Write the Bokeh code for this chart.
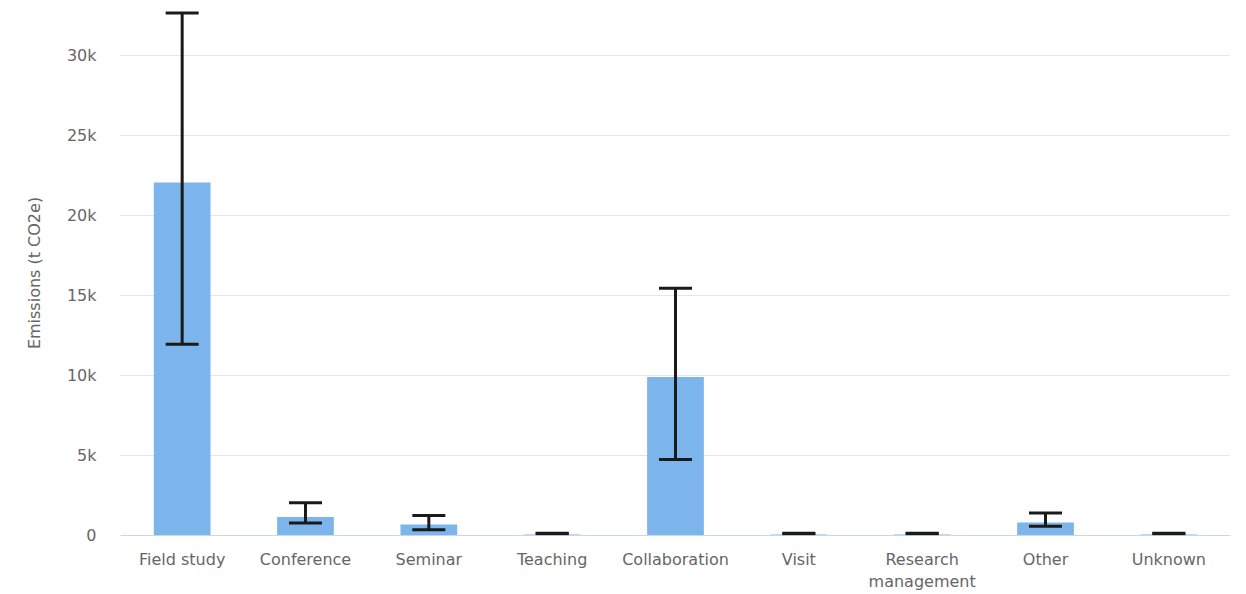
from bokeh.plotting import figure
from bokeh.models import ColumnDataSource, Range1d, FixedTicker, Whisker, TeeHead
from bokeh.embed import file_html
from bokeh.resources import INLINE

categories = ["Field study", "Conference", "Seminar", "Teaching", "Collaboration",
              "Visit", "Research\nmanagement", "Other", "Unknown"]
values = [22050, 1150, 680, 60, 9900, 60, 60, 820, 60]
err_low = [11950, 780, 360, 110, 4750, 110, 110, 580, 110]
err_high = [32650, 2050, 1250, 140, 15450, 140, 140, 1400, 140]
y_ticks = [0, 5000, 10000, 15000, 20000, 25000, 30000]
y_tick_labels = ["0", "5k", "10k", "15k", "20k", "25k", "30k"]

FONT = "DejaVu Sans"
TXT = "#666666"

xs = list(range(len(categories)))
src = ColumnDataSource(dict(x=xs, val=values, lo=err_low, hi=err_high))

p = figure(x_range=Range1d(-0.5, len(categories) - 0.5), y_range=Range1d(0, 32800),
           width=1240, height=594,
           output_backend="svg", toolbar_location=None,
           min_border_left=120, min_border_right=10, min_border_top=10, min_border_bottom=59)
p.outline_line_color = None

p.vbar(x="x", top="val", width=0.46, source=src, fill_color="#7cb5ec", line_color=None)

w = Whisker(base="x", lower="lo", upper="hi", source=src, level="overlay",
            line_color="#1a1a1a", line_width=3,
            upper_head=TeeHead(size=33, line_color="#1a1a1a", line_width=3),
            lower_head=TeeHead(size=33, line_color="#1a1a1a", line_width=3))
p.add_layout(w)

p.xgrid.grid_line_color = None
p.ygrid.grid_line_color = "#e6e6e6"
p.ygrid.grid_line_width = 1
p.yaxis.ticker = FixedTicker(ticks=y_ticks)
p.yaxis.major_label_overrides = {t: l for t, l in zip(y_ticks, y_tick_labels)}
p.yaxis.axis_line_color = None
p.yaxis.major_tick_line_color = None
p.yaxis.major_tick_out = 0
p.yaxis.major_tick_in = 0
p.yaxis.minor_tick_line_color = None
p.yaxis.minor_tick_out = 0
p.yaxis.major_label_standoff = 24
p.yaxis.axis_label = "Emissions (t CO2e)"
p.yaxis.axis_label_standoff = 20
p.yaxis.axis_label_text_font = FONT
p.yaxis.axis_label_text_font_size = "16px"
p.yaxis.axis_label_text_font_style = "normal"
p.yaxis.axis_label_text_color = TXT
p.yaxis.major_label_text_font = FONT
p.yaxis.major_label_text_font_size = "16px"
p.yaxis.major_label_text_color = TXT

p.xaxis.ticker = FixedTicker(ticks=xs)
p.xaxis.major_label_overrides = {i: (c if "\n" in c else c + "\n ") for i, c in zip(xs, categories)}
p.xaxis.axis_line_color = "#ccd6eb"
p.xaxis.axis_line_width = 1
p.xaxis.major_tick_line_color = None
p.xaxis.major_tick_out = 0
p.xaxis.major_tick_in = 0
p.xaxis.minor_tick_line_color = None
p.xaxis.minor_tick_out = 0
p.xaxis.minor_tick_in = 0
p.xaxis.major_label_standoff = 14
p.xaxis.major_label_text_font = FONT
p.xaxis.major_label_text_font_size = "16px"
p.xaxis.major_label_text_line_height = 1.2
p.xaxis.major_label_text_color = TXT

open("out.html", "w").write(file_html(p, INLINE))
